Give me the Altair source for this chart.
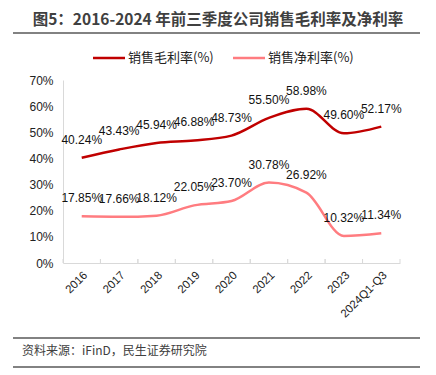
import altair as alt
import pandas as pd

categories = ["2016", "2017", "2018", "2019", "2020", "2021", "2022", "2023", "2024Q1-Q3"]
gross_margin = [40.24, 43.43, 45.94, 46.88, 48.73, 55.50, 58.98, 49.60, 52.17]
net_margin = [17.85, 17.66, 18.12, 22.05, 23.70, 30.78, 26.92, 10.32, 11.34]
series_names = ["销售毛利率(%)", "销售净利率(%)"]
series_colors = ["#C00000", "#FF7C80"]
y_ticks = [0, 10, 20, 30, 40, 50, 60, 70]
title_text = "图5：2016-2024 年前三季度公司销售毛利率及净利率"
source_text = "资料来源：iFinD，民生证券研究院"

rows = []
for name, vals in zip(series_names, [gross_margin, net_margin]):
    for c, v in zip(categories, vals):
        rows.append({"cat": c, "series": name, "value": v, "label": f"{v:.2f}%"})
df = pd.DataFrame(rows)
cat_df = pd.DataFrame({"cat": categories})

W, H = 337, 183
NUM_FONT = "Liberation Sans"
CJK_FONT = "Noto Sans CJK SC"

x_scale = alt.Scale(type="band", domain=categories, paddingInner=0, paddingOuter=0)
y_scale = alt.Scale(domain=[0, 70], nice=False)
color_scale = alt.Scale(domain=series_names, range=series_colors)

x_axis = alt.Axis(title=None, labelAngle=-45, labelFontSize=11.5, labelFont=NUM_FONT,
                  labelColor="#222222", ticks=False, domainColor="#d9d9d9",
                  labelPadding=6, grid=False, labelOverlap=False)
y_axis = alt.Axis(title=None, values=y_ticks, tickCount=8, labelExpr="datum.value + '%'",
                  labelFontSize=12, labelFont=NUM_FONT, labelColor="#222222",
                  ticks=False, domainColor="#d9d9d9", grid=False, labelPadding=10,
                  labelOverlap=False, labelFlush=False)

lines = alt.Chart(df).mark_line(interpolate="monotone", strokeWidth=2.5).encode(
    x=alt.X("cat:N", scale=x_scale, bandPosition=0.5, sort=categories, axis=x_axis),
    y=alt.Y("value:Q", scale=y_scale, axis=y_axis),
    color=alt.Color("series:N", scale=color_scale, legend=None),
    detail="series:N",
)

labels = alt.Chart(df).mark_text(dy=-18, fontSize=12, font=NUM_FONT, color="#111111",
                                 baseline="middle", align="center").encode(
    x=alt.X("cat:N", scale=x_scale, bandPosition=0.5, sort=categories, axis=x_axis),
    y=alt.Y("value:Q", scale=y_scale, axis=y_axis),
    text="label:N",
)

ticks_left = alt.Chart(cat_df).mark_rule(color="#d9d9d9", strokeWidth=1).encode(
    x=alt.X("cat:N", scale=x_scale, bandPosition=0, sort=categories, axis=x_axis),
    y=alt.value(H), y2=alt.value(H - 4),
)
ticks_right = alt.Chart(cat_df).mark_rule(color="#d9d9d9", strokeWidth=1).encode(
    x=alt.X("cat:N", scale=x_scale, bandPosition=1, sort=categories, axis=x_axis),
    y=alt.value(H), y2=alt.value(H - 4),
)

# legend (manual)
legend_layers = []
for i, name in enumerate(series_names):
    x0 = [30, 170][i]
    legend_layers.append(
        alt.Chart(cat_df.head(1)).mark_rule(color=series_colors[i], strokeWidth=2.5).encode(
            x=alt.value(x0), x2=alt.value(x0 + 32), y=alt.value(-22))
    )
    legend_layers.append(
        alt.Chart(cat_df.head(1)).mark_text(align="left", baseline="middle", fontSize=13,
                                            font=CJK_FONT, color="#222222").encode(
            x=alt.value(x0 + 35), y=alt.value(-22), text=alt.value(name))
    )

title = alt.Chart(cat_df.head(1)).mark_text(align="center", baseline="middle", fontSize=15.5,
                                            fontWeight="bold", font=CJK_FONT,
                                            color="#404040").encode(
    x=alt.value(155), y=alt.value(-60.5), text=alt.value(title_text))
top_line = alt.Chart(cat_df.head(1)).mark_rule(color="#595959", strokeWidth=1.5).encode(
    x=alt.value(-50), x2=alt.value(357), y=alt.value(-47))
bottom_line1 = alt.Chart(cat_df.head(1)).mark_rule(color="#595959", strokeWidth=1.5).encode(
    x=alt.value(-50), x2=alt.value(357), y=alt.value(258))
bottom_line2 = alt.Chart(cat_df.head(1)).mark_rule(color="#595959", strokeWidth=1.5).encode(
    x=alt.value(-50), x2=alt.value(357), y=alt.value(287))
source = alt.Chart(cat_df.head(1)).mark_text(align="left", baseline="middle", fontSize=12,
                                             font=CJK_FONT, color="#404040").encode(
    x=alt.value(-41), y=alt.value(271), text=alt.value(source_text))

chart = alt.layer(
    lines, ticks_left, ticks_right, labels, *legend_layers,
    title, top_line, bottom_line1, bottom_line2, source,
).properties(
    width=W, height=H,
    padding={"left": 55, "top": 72, "right": 28, "bottom": 105},
    autosize=alt.AutoSizeParams(type="none"),
    background="white",
).configure_view(stroke=None)

chart.save("out.html", embed_options={"renderer": "svg", "actions": False})
